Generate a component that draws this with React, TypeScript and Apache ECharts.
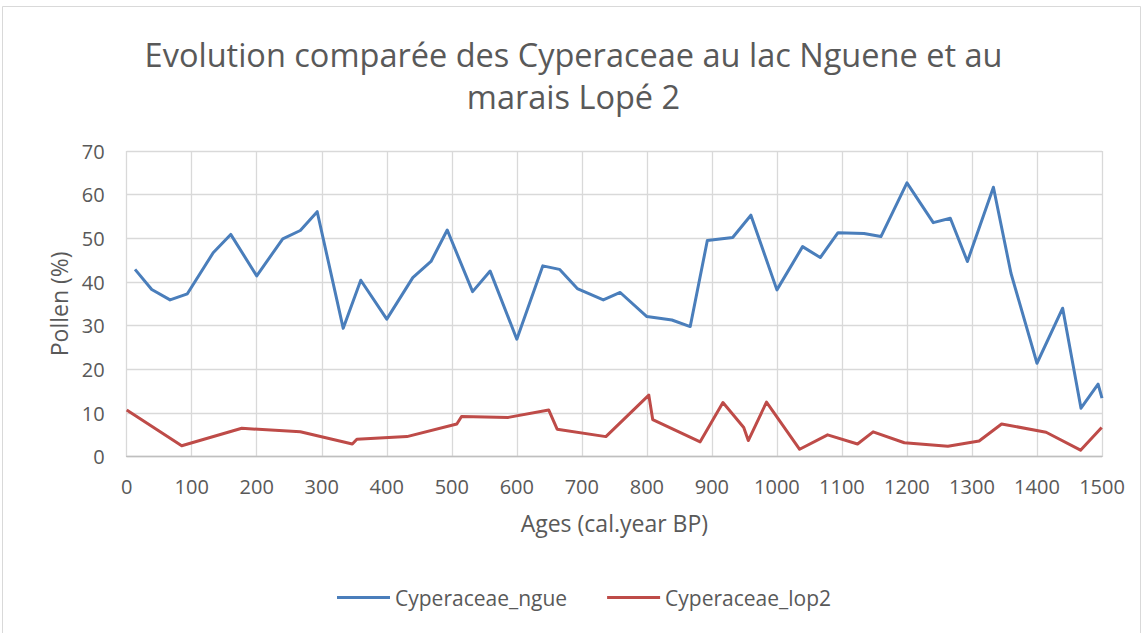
import React, { useEffect, useRef } from "react";
import * as echarts from "echarts";

const titleText = "Evolution comparée des Cyperaceae au lac Nguene et au\nmarais Lopé 2";
const xAxisName = "Ages (cal.year BP)";
const yAxisName = "Pollen (%)";

const ngueAges = [12.8, 38.5, 66.7, 93.3, 133, 160, 200, 240, 267, 293, 333, 360, 400, 440, 468, 493, 532, 559, 600, 640, 665.6, 693, 733, 759, 800, 838.5, 866.7, 893, 932, 960, 1000, 1039.5, 1066.7, 1094, 1134, 1160, 1200, 1240.5, 1266.7, 1293, 1333, 1360, 1400, 1439.5, 1467.7, 1494, 1500];
const ngueValues = [42.9, 38.3, 35.9, 37.3, 46.7, 50.9, 41.4, 49.9, 51.8, 56.1, 29.4, 40.4, 31.5, 41.0, 44.7, 51.9, 37.8, 42.5, 26.9, 43.7, 42.9, 38.5, 35.9, 37.6, 32.1, 31.3, 29.8, 49.5, 50.2, 55.3, 38.2, 48.1, 45.6, 51.3, 51.1, 50.4, 62.7, 53.6, 54.6, 44.7, 61.7, 42.0, 21.4, 34.0, 11.1, 16.6, 13.4];

const lopAges = [0, 84.6, 177, 267, 347, 354, 431, 507.7, 515, 587, 649, 662, 737, 803, 809, 882, 917, 949, 956, 984, 1035, 1078, 1124, 1148, 1196, 1263, 1311, 1345.6, 1414, 1467, 1499.5];
const lopValues = [10.7, 2.5, 6.5, 5.7, 2.9, 4.0, 4.6, 7.5, 9.2, 9.0, 10.7, 6.3, 4.6, 14.1, 8.5, 3.4, 12.4, 6.7, 3.7, 12.5, 1.7, 5.0, 2.9, 5.7, 3.2, 2.4, 3.6, 7.5, 5.6, 1.5, 6.7];

const seriesNames = ["Cyperaceae_ngue", "Cyperaceae_lop2"];
const seriesColors = ["#4a7ebb", "#be4b48"];

const FONT = "'Open Sans', sans-serif";
const TXT = "#595959";

export default function App() {
  const ref = useRef<HTMLDivElement>(null);
  useEffect(() => {
    if (!ref.current) return;
    const chart = echarts.init(ref.current, null, { renderer: "svg" });
    const pairs = (xs: number[], ys: number[]) => xs.map((x, i) => [x, ys[i]]);
    chart.setOption({
      animation: false,
      backgroundColor: "#ffffff",
      textStyle: { fontFamily: FONT },
      title: {
        text: titleText,
        left: "center",
        top: 33,
        padding: 0,
        textStyle: { fontFamily: FONT, fontSize: 32.5, fontWeight: "normal", color: TXT, lineHeight: 42 },
      },
      graphic: [
        {
          type: "rect",
          shape: { x: 2.5, y: 6.5, width: 1138, height: 630 },
          style: { fill: "none", stroke: "#d9d9d9", lineWidth: 1 },
          silent: true,
        },
      ],
      legend: {
        top: 587,
        left: 337,
        padding: 0,
        itemWidth: 53,
        itemHeight: 3,
        itemGap: 40,
        icon: "rect",
        textStyle: { fontFamily: FONT, fontSize: 21, color: TXT },
        data: seriesNames,
      },
      grid: { left: 126.7, right: 45, top: 151, bottom: 176.3, containLabel: false },
      xAxis: {
        type: "value",
        min: 0,
        max: 1500,
        interval: 100,
        name: xAxisName,
        nameLocation: "middle",
        nameGap: 55,
        nameTextStyle: { fontFamily: FONT, fontSize: 23, color: TXT },
        axisLine: { show: true, lineStyle: { color: "#bfbfbf", width: 1.3 } },
        axisTick: { show: false },
        axisLabel: { fontFamily: FONT, fontSize: 20, color: TXT, margin: 20, formatter: (v: number) => String(v) },
        splitLine: { show: true, lineStyle: { color: "#d9d9d9", width: 1.3 } },
      },
      yAxis: {
        type: "value",
        min: 0,
        max: 70,
        interval: 10,
        name: yAxisName,
        nameLocation: "middle",
        nameGap: 56,
        nameTextStyle: { fontFamily: FONT, fontSize: 23, color: TXT },
        axisLine: { show: false },
        axisTick: { show: false },
        axisLabel: { fontFamily: FONT, fontSize: 20, color: TXT, margin: 22 },
        splitLine: { show: true, lineStyle: { color: "#d9d9d9", width: 1.3 } },
      },
      series: [
        {
          name: seriesNames[0],
          type: "line",
          data: pairs(ngueAges, ngueValues),
          showSymbol: false,
          symbol: "none",
          color: seriesColors[0],
          lineStyle: { width: 3, color: seriesColors[0], join: "round" },
        },
        {
          name: seriesNames[1],
          type: "line",
          data: pairs(lopAges, lopValues),
          showSymbol: false,
          symbol: "none",
          color: seriesColors[1],
          lineStyle: { width: 3, color: seriesColors[1], join: "round" },
        },
      ],
    });
    return () => chart.dispose();
  }, []);
  return (
    <div
      ref={ref}
      style={{ position: "fixed", left: 0, top: 0, width: 1147, height: 633 }}
    />
  );
}
